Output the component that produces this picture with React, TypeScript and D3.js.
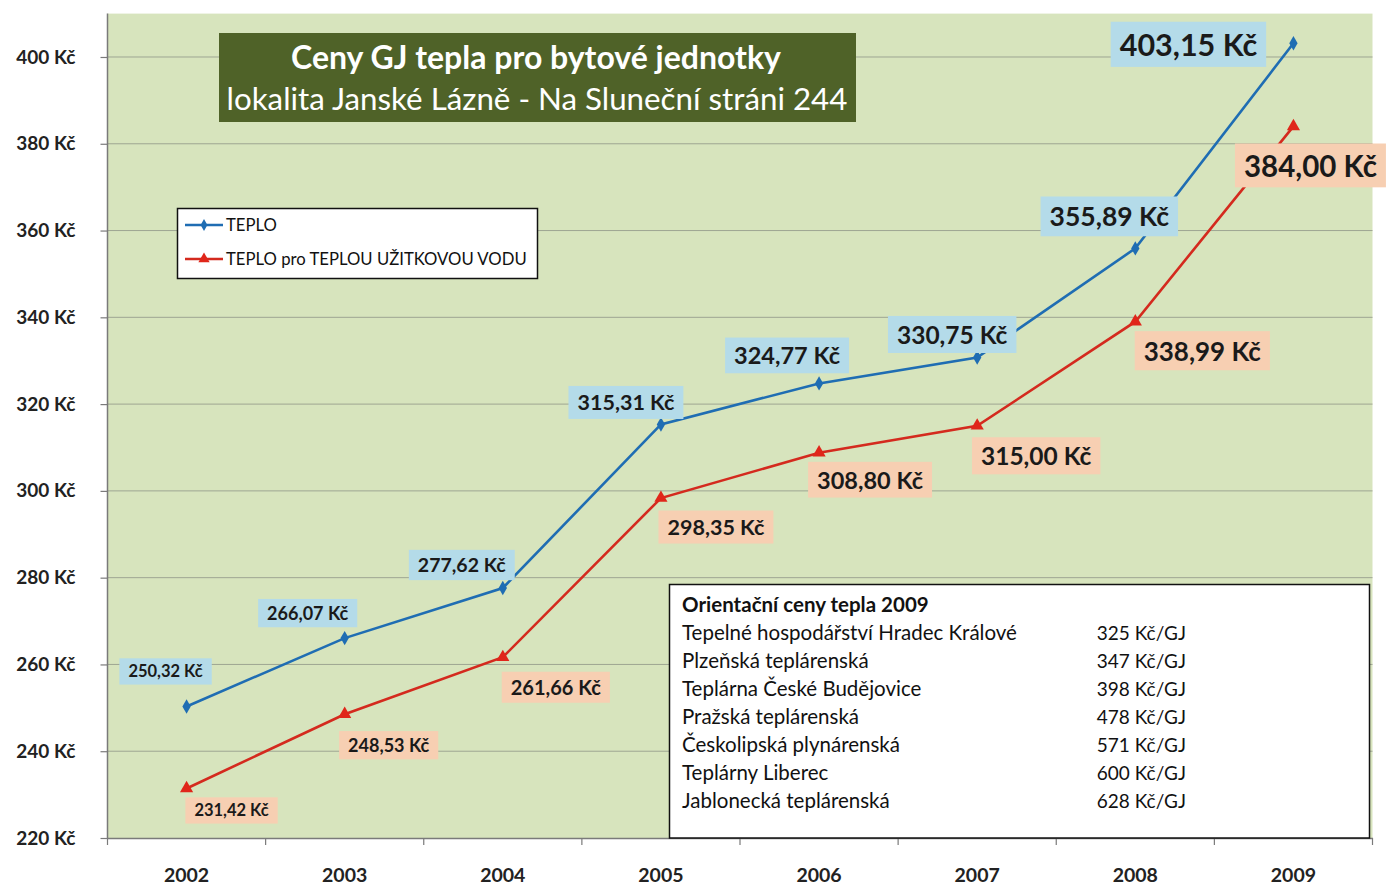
import React, { useEffect, useRef } from "react";
import * as d3 from "d3";

const years = ["2002", "2003", "2004", "2005", "2006", "2007", "2008", "2009"];
const teplo = [250.32, 266.07, 277.62, 315.31, 324.77, 330.75, 355.89, 403.15];
const teploTUV = [231.42, 248.53, 261.66, 298.35, 308.8, 315.0, 338.99, 384.0];
const yTicks = [220, 240, 260, 280, 300, 320, 340, 360, 380, 400];
const seriesNames = ["TEPLO", "TEPLO pro TEPLOU UŽITKOVOU VODU"];
const titleLines = ["Ceny GJ tepla pro bytové jednotky", "lokalita Janské Lázně - Na Sluneční stráni 244"];
const infoTitle = "Orientační ceny tepla 2009";
const infoNames = [
  "Tepelné hospodářství  Hradec Králové",
  "Plzeňská teplárenská",
  "Teplárna České Budějovice",
  "Pražská teplárenská",
  "Českolipská plynárenská",
  "Teplárny Liberec",
  "Jablonecká teplárenská",
];
const infoValues = ["325 Kč/GJ", "347 Kč/GJ", "398 Kč/GJ", "478 Kč/GJ", "571 Kč/GJ", "600 Kč/GJ", "628 Kč/GJ"];

// label layout (offsets of label centre from point, font sizes)
const blueLabelDx = [-21, -37, -41, -35, -32, -25, -26, -105];
const blueLabelDy = [-35, -25, -23, -22, -28, -23, -32, 1];
const blueLabelSize = [16.5, 18, 19.5, 21.5, 23.5, 24.5, 26.5, 30.5];
const redLabelDx = [45, 44, 53, 55, 51, 59, 67, 17];
const redLabelDy = [22, 31, 30, 29, 27, 30, 29, 39];
const redLabelSize = [16.5, 18, 20, 21.5, 23.5, 24.5, 26, 29.5];

const fmt = (v: number) => v.toFixed(2).replace(".", ",") + " Kč";

export default function App() {
  const ref = useRef<SVGSVGElement>(null);

  useEffect(() => {
    const svg = d3.select(ref.current);
    svg.selectAll("*").remove();
    const W = 1386, H = 886;
    const left = 107.5, right = 1372.5, top = 13.6, bottom = 838;
    const font = "Lato, 'Open Sans', sans-serif";

    svg.append("rect").attr("width", W).attr("height", H).attr("fill", "#ffffff");

    const x = d3.scaleBand<string>().domain(years).range([left, right]);
    const cx = (yr: string) => (x(yr) as number) + x.bandwidth() / 2;
    const y = d3.scaleLinear().domain([220, 410]).range([bottom, top]);

    // plot area
    svg.append("rect").attr("x", left).attr("y", top).attr("width", right - left).attr("height", bottom - top).attr("fill", "#d7e4bd");

    // grid
    svg.append("g").selectAll("line").data(yTicks.slice(1)).join("line")
      .attr("x1", left).attr("x2", right)
      .attr("y1", (d) => y(d)).attr("y2", (d) => y(d))
      .attr("stroke", "#9ea592").attr("stroke-width", 1);

    // y axis
    const yAxis = svg.append("g").attr("transform", `translate(${left},0)`)
      .call(d3.axisLeft(y).tickValues(yTicks).tickSize(7).tickFormat((d) => `${d} Kč`));
    yAxis.select(".domain").attr("stroke", "#7a7a7a").attr("stroke-width", 1.5).attr("d", `M0,${top}V${bottom}`);
    yAxis.selectAll(".tick line").attr("stroke", "#7a7a7a").attr("stroke-width", 1.2);
    yAxis.selectAll(".tick text").attr("x", -32).attr("font-family", font).attr("font-size", 19).attr("font-weight", 700).attr("fill", "#222");

    // x axis
    const xAxis = svg.append("g").attr("transform", `translate(0,${bottom})`)
      .call(d3.axisBottom(x).tickSize(0).tickPadding(30));
    xAxis.select(".domain").attr("stroke", "#7a7a7a").attr("stroke-width", 1.5);
    xAxis.selectAll(".tick text").attr("font-family", font).attr("font-size", 19.5).attr("font-weight", 700).attr("fill", "#222");
    svg.append("g").selectAll("line").data([...years.map((yr) => x(yr) as number), right]).join("line")
      .attr("x1", (d) => d).attr("x2", (d) => d).attr("y1", bottom).attr("y2", bottom + 7)
      .attr("stroke", "#7a7a7a").attr("stroke-width", 1.2);

    // title box
    const tb = svg.append("g");
    tb.append("rect").attr("x", 219).attr("y", 33).attr("width", 637).attr("height", 89).attr("fill", "#4f6228");
    tb.append("text").attr("x", 536).attr("y", 69).attr("text-anchor", "middle").attr("font-family", font)
      .attr("font-size", 32).attr("font-weight", 700).attr("fill", "#ffffff").text(titleLines[0]);
    tb.append("text").attr("x", 537).attr("y", 110).attr("text-anchor", "middle").attr("font-family", font)
      .attr("font-size", 31.3).attr("font-weight", 400).attr("fill", "#ffffff").text(titleLines[1]);

    // legend
    const lg = svg.append("g");
    lg.append("rect").attr("x", 177.5).attr("y", 208.5).attr("width", 360).attr("height", 70).attr("fill", "#fff").attr("stroke", "#111").attr("stroke-width", 1.5);
    const legendColors = ["#1f6db3", "#d42a1e"];
    seriesNames.forEach((name, i) => {
      const ly = 225 + i * 34;
      lg.append("line").attr("x1", 185).attr("x2", 223).attr("y1", ly).attr("y2", ly).attr("stroke", legendColors[i]).attr("stroke-width", 2.5);
      lg.append("path").attr("transform", `translate(204,${ly})`)
        .attr("d", d3.symbol(i === 0 ? d3.symbolDiamond : d3.symbolTriangle, i === 0 ? 40 : 55)())
        .attr("fill", i === 0 ? "#1f6db3" : "#e0261a");
      lg.append("text").attr("x", 226).attr("y", ly + 6).attr("font-family", font).attr("font-size", 16.7).attr("fill", "#111").text(name);
    });

    // info box
    const ib = svg.append("g");
    ib.append("rect").attr("x", 669.5).attr("y", 584.5).attr("width", 700).attr("height", 253.5).attr("fill", "#fff").attr("stroke", "#111").attr("stroke-width", 1.5);
    ib.append("text").attr("x", 682).attr("y", 612).attr("font-family", font).attr("font-size", 20.5).attr("font-weight", 700).attr("fill", "#111").text(infoTitle);
    infoNames.forEach((n, i) => {
      const ty = 640 + i * 28;
      ib.append("text").attr("x", 682).attr("y", ty).attr("font-family", font).attr("font-size", 20.5).attr("fill", "#111").text(n);
      ib.append("text").attr("x", 1186).attr("y", ty).attr("text-anchor", "end").attr("font-family", font).attr("font-size", 19).attr("fill", "#111").text(infoValues[i]);
    });

    // lines
    const line = d3.line<number>().x((_, i) => cx(years[i])).y((d) => y(d));
    const series = [
      { values: teplo, color: "#1f6db3", marker: d3.symbolDiamond, msize: 60, mcolor: "#1f6db3" },
      { values: teploTUV, color: "#d42a1e", marker: d3.symbolTriangle, msize: 75, mcolor: "#e0261a" },
    ];
    series.forEach((s) => {
      svg.append("path").datum(s.values).attr("d", line).attr("fill", "none").attr("stroke", s.color).attr("stroke-width", 2.6);
      svg.append("g").selectAll("path").data(s.values).join("path")
        .attr("transform", (d, i) => `translate(${cx(years[i])},${y(d)})`)
        .attr("d", d3.symbol(s.marker, s.msize)())
        .attr("fill", s.mcolor);
    });

    // data labels
    const addLabels = (vals: number[], dx: number[], dy: number[], sizes: number[], bg: string) => {
      vals.forEach((v, i) => {
        const px = cx(years[i]) + dx[i];
        const py = y(v) + dy[i];
        const g = svg.append("g");
        const rect = g.append("rect").attr("fill", bg);
        const t = g.append("text").attr("x", px).attr("y", py).attr("text-anchor", "middle").attr("dominant-baseline", "central")
          .attr("font-family", font).attr("font-size", sizes[i]).attr("font-weight", 700).attr("fill", "#1a1a1a").text(fmt(v));
        const w = (t.node() as SVGTextElement).getComputedTextLength();
        const h = sizes[i] * 1.35 + 4;
        rect.attr("x", px - w / 2 - 9).attr("y", py - h / 2).attr("width", w + 18).attr("height", h);
      });
    };
    addLabels(teplo, blueLabelDx, blueLabelDy, blueLabelSize, "#b4dbe9");
    addLabels(teploTUV, redLabelDx, redLabelDy, redLabelSize, "#f7cfb2");
  }, []);

  return <svg ref={ref} width={1386} height={886} style={{ position: "absolute", left: 0, top: 0, display: "block" }} />;
}
